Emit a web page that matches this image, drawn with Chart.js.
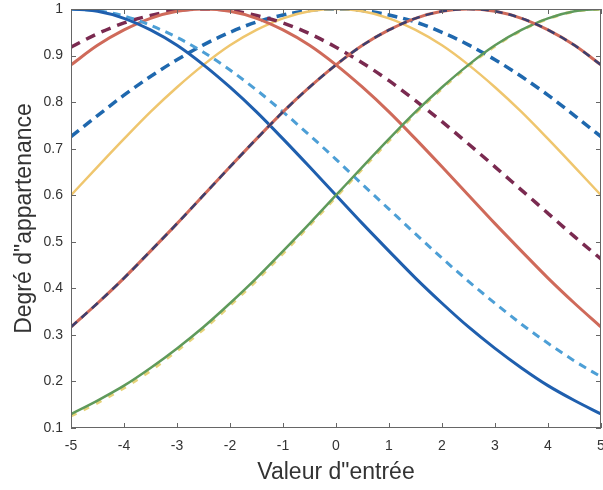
<!DOCTYPE html>
<html>
<head>
<meta charset="utf-8">
<title>Degré d"appartenance</title>
<script src="https://cdn.jsdelivr.net/npm/chart.js@4.4.1/dist/chart.umd.min.js"></script>
<style>
  html, body { margin: 0; padding: 0; background: #fff; }
  #wrap { width: 603px; height: 490px; }
</style>
</head>
<body>
<div id="wrap"><canvas id="mfChart" width="603" height="490"></canvas></div>
<script>
// input values (x axis)
const xValues = [-5, -4.5, -4, -3.5, -3, -2.5, -2, -1.5, -1, -0.5, 0, 0.5, 1, 1.5, 2, 2.5, 3, 3.5, 4, 4.5, 5];

// membership curves
const blueSolid   = [1.000, 0.995, 0.980, 0.955, 0.922, 0.880, 0.832, 0.779, 0.721, 0.661, 0.600, 0.539, 0.480, 0.422, 0.368, 0.317, 0.271, 0.229, 0.191, 0.159, 0.130];
const lightDashed = [1.000, 0.996, 0.985, 0.965, 0.939, 0.907, 0.869, 0.826, 0.779, 0.729, 0.677, 0.623, 0.570, 0.517, 0.465, 0.415, 0.368, 0.323, 0.282, 0.244, 0.210];
const redSolidL   = [0.880, 0.922, 0.955, 0.980, 0.995, 1.000, 0.995, 0.980, 0.955, 0.922, 0.880, 0.832, 0.779, 0.721, 0.661, 0.600, 0.539, 0.480, 0.422, 0.368, 0.317];
const maroonDash  = [0.918, 0.947, 0.970, 0.986, 0.997, 1.000, 0.997, 0.986, 0.970, 0.947, 0.918, 0.884, 0.846, 0.803, 0.758, 0.710, 0.661, 0.611, 0.561, 0.511, 0.463];
const yellowSolid = [0.600, 0.661, 0.721, 0.779, 0.832, 0.880, 0.922, 0.955, 0.980, 0.995, 1.000, 0.995, 0.980, 0.955, 0.922, 0.880, 0.832, 0.779, 0.721, 0.661, 0.600];
const blueDashed  = [0.726, 0.771, 0.815, 0.855, 0.891, 0.923, 0.950, 0.972, 0.987, 0.997, 1.000, 0.997, 0.987, 0.972, 0.950, 0.923, 0.891, 0.855, 0.815, 0.771, 0.726];
const redSolidR   = [0.317, 0.368, 0.422, 0.480, 0.539, 0.600, 0.661, 0.721, 0.779, 0.832, 0.880, 0.922, 0.955, 0.980, 0.995, 1.000, 0.995, 0.980, 0.955, 0.922, 0.880];
const darkDashed  = [0.317, 0.368, 0.422, 0.480, 0.539, 0.600, 0.661, 0.721, 0.779, 0.832, 0.880, 0.922, 0.955, 0.980, 0.995, 1.000, 0.995, 0.980, 0.955, 0.922, 0.880];
const greenSolid  = [0.130, 0.159, 0.191, 0.229, 0.271, 0.317, 0.368, 0.422, 0.480, 0.539, 0.600, 0.661, 0.721, 0.779, 0.832, 0.880, 0.922, 0.955, 0.980, 0.995, 1.000];
const yellowDash  = [0.126, 0.154, 0.186, 0.223, 0.266, 0.312, 0.363, 0.417, 0.475, 0.535, 0.596, 0.657, 0.717, 0.776, 0.829, 0.878, 0.920, 0.954, 0.979, 0.995, 1.000];

const xTitle = 'Valeur d"entrée';
const yTitle = 'Degré d"appartenance';

const FONT = '"Liberation Sans", Arial, sans-serif';

function pts(ys) {
    return ys.map((v, i) => ({ x: xValues[i], y: v }));
}

function line(ys, color, width, dash) {
    return {
        data: pts(ys),
        borderColor: color,
        borderWidth: width,
        borderDash: dash || [],
        pointRadius: 0,
        fill: false,
        cubicInterpolationMode: 'monotone'
    };
}

// box round the plot with inward ticks on all four sides
const boxTicks = {
    id: 'boxTicks',
    afterDatasetsDraw(chart) {
        const { ctx, chartArea: a, scales: { x, y } } = chart;
        ctx.save();
        ctx.strokeStyle = '#666';
        ctx.lineWidth = 1;
        ctx.strokeRect(a.left + 0.5, a.top + 0.5, a.right - a.left - 1, a.bottom - a.top - 1);
        ctx.beginPath();
        x.ticks.forEach(t => {
            const px = Math.round(x.getPixelForValue(t.value)) + 0.5;
            ctx.moveTo(px, a.bottom); ctx.lineTo(px, a.bottom - 5);
            ctx.moveTo(px, a.top); ctx.lineTo(px, a.top + 5);
        });
        y.ticks.forEach(t => {
            const py = Math.round(y.getPixelForValue(t.value)) + 0.5;
            ctx.moveTo(a.left, py); ctx.lineTo(a.left + 5, py);
            ctx.moveTo(a.right, py); ctx.lineTo(a.right - 5, py);
        });
        ctx.stroke();
        ctx.restore();
    }
};

const ctx = document.getElementById('mfChart').getContext('2d');
new Chart(ctx, {
    type: 'line',
    data: {
        datasets: [
            line(darkDashed, '#3d3f6e', 2.5, [8, 6]),
            line(redSolidR, '#cf6a5a', 3),
            line(greenSolid, '#5f9a5b', 2.5),
            line(yellowDash, '#e6d37a', 3, [6, 8]),
            line(blueSolid, '#1f5fae', 3),
            line(lightDashed, '#4d9fd6', 3, [8, 6]),
            line(redSolidL, '#cf6a5a', 3),
            line(maroonDash, '#7a2a50', 3.5, [10, 7]),
            line(yellowSolid, '#efc66e', 2.5),
            line(blueDashed, '#1f68ae', 3.5, [10, 6])
        ]
    },
    options: {
        responsive: false,
        animation: false,
        layout: { padding: { left: 0, top: 9, right: 2, bottom: 0 } },
        plugins: {
            legend: { display: false },
            tooltip: { enabled: false }
        },
        scales: {
            x: {
                type: 'linear',
                min: -5,
                max: 5,
                grid: { display: false, drawTicks: false },
                border: { display: false },
                ticks: {
                    stepSize: 1,
                    padding: 10,
                    color: '#333',
                    font: { family: FONT, size: 14 }
                },
                title: {
                    display: true,
                    text: xTitle,
                    color: '#333',
                    padding: { top: 0, bottom: 4 },
                    font: { family: FONT, size: 23 }
                },
                afterFit(s) {
                    s.height = 62;
                    s.paddingLeft = 0;
                    s.paddingRight = 0;
                }
            },
            y: {
                min: 0.1,
                max: 1,
                grid: { display: false, drawTicks: false },
                border: { display: false },
                ticks: {
                    stepSize: 0.1,
                    padding: 8,
                    color: '#333',
                    font: { family: FONT, size: 14 },
                    callback: v => String(Number(v.toFixed(1)))
                },
                title: {
                    display: true,
                    text: yTitle,
                    color: '#333',
                    padding: { top: 11, bottom: 0 },
                    font: { family: FONT, size: 23 }
                },
                afterFit(s) {
                    s.width = 71;
                    s.paddingTop = 0;
                    s.paddingBottom = 0;
                }
            }
        }
    },
    plugins: [boxTicks]
});
</script>
</body>
</html>
